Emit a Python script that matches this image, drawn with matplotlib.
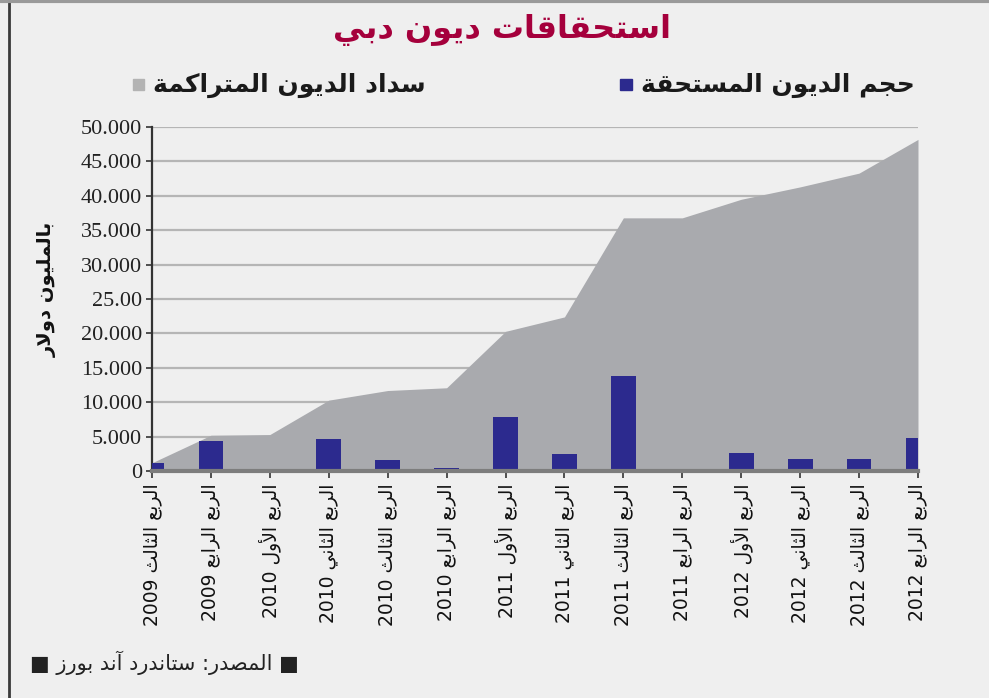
import re
import matplotlib
matplotlib.use("Agg")
import matplotlib.pyplot as plt
from matplotlib.lines import Line2D
from matplotlib.patches import Rectangle

# ---- data (millions of dollars) ----
quarters = [
    "الربع الثالث 2009", "الربع الرابع 2009",
    "الربع الأول 2010", "الربع الثاني 2010", "الربع الثالث 2010", "الربع الرابع 2010",
    "الربع الأول 2011", "الربع الثاني 2011", "الربع الثالث 2011", "الربع الرابع 2011",
    "الربع الأول 2012", "الربع الثاني 2012", "الربع الثالث 2012", "الربع الرابع 2012",
]
debt_due = [1100, 4400, 0, 4600, 1600, 400, 7800, 2400, 13800, 0, 2600, 1800, 1800, 4800]
repaid_cum = [1200, 5200, 5300, 10300, 11700, 12100, 20300, 22400, 36800, 36800,
              39500, 41300, 43300, 48200]
yticks = [0, 5000, 10000, 15000, 20000, 25000, 30000, 35000, 40000, 45000, 50000]
ytick_labels = ["0", "5.000", "10.000", "15.000", "20.000", "25.00", "30.000",
                "35.000", "40.000", "45.000", "50.000"]

title = "استحقاقات ديون دبي"
legend_due = "حجم الديون المستحقة"
legend_cum = "سداد الديون المتراكمة"
ylabel = "بالمليون دولار"
source = "المصدر: ستاندرد آند بورز"

# ---- minimal arabic shaping (matplotlib has no bidi / joining) ----
# letter -> (first presentation form, 4 = joins both sides / 2 = right only)
AR_FORMS = {
    "ا": (0xFE8D, 2), "آ": (0xFE81, 2), "أ": (0xFE83, 2),
    "ب": (0xFE8F, 4), "ة": (0xFE93, 2), "ت": (0xFE95, 4), "ث": (0xFE99, 4),
    "ج": (0xFE9D, 4), "ح": (0xFEA1, 4), "د": (0xFEA9, 2), "ر": (0xFEAD, 2),
    "ز": (0xFEAF, 2), "س": (0xFEB1, 4), "ص": (0xFEB9, 4), "ع": (0xFEC9, 4),
    "ق": (0xFED5, 4), "ك": (0xFED9, 4), "ل": (0xFEDD, 4), "م": (0xFEE1, 4),
    "ن": (0xFEE5, 4), "ه": (0xFEE9, 4), "و": (0xFEED, 2), "ي": (0xFEF1, 4),
}
LAM_ALEF = {"ا": 0xFEFB, "أ": 0xFEF7, "آ": 0xFEF5}


def ar(text):
    out = []
    i = 0
    while i < len(text):
        c = text[i]
        if c not in AR_FORMS:
            out.append(c)
            i += 1
            continue
        prev = text[i - 1] if i > 0 else ""
        nxt = text[i + 1] if i + 1 < len(text) else ""
        joins_prev = prev in AR_FORMS and AR_FORMS[prev][1] == 4
        if c == "ل" and nxt in LAM_ALEF:
            out.append(chr(LAM_ALEF[nxt] + int(joins_prev)))
            i += 2
            continue
        base, n = AR_FORMS[c]
        joins_next = n == 4 and nxt in AR_FORMS
        if joins_prev and joins_next:
            form = base + 3
        elif joins_next:
            form = base + 2
        elif joins_prev:
            form = base + 1
        else:
            form = base
        out.append(chr(form))
        i += 1
    vis = "".join(out)[::-1]
    # numbers keep left-to-right order
    return re.sub(r"[0-9.]+", lambda m: m.group(0)[::-1], vis)


plt.rcParams["font.family"] = ["DejaVu Sans"]
BG = "#efefef"
NAVY = "#2c2a8e"
GREY = "#a9aaae"

fig = plt.figure(figsize=(9.89, 6.98), dpi=100, facecolor=BG)
ax = fig.add_axes([0.1537, 0.3252, 0.7745, 0.4928])
ax.set_facecolor(BG)

x = list(range(len(quarters)))
ax.fill_between(x, repaid_cum, 0, color=GREY, lw=0, zorder=2)
ax.bar(x, debt_due, width=0.42, color=NAVY, zorder=3)

ax.set_xlim(0, len(quarters) - 1)
ax.set_ylim(0, 50000)
ax.set_yticks(yticks)
ax.set_yticklabels(ytick_labels, family="Liberation Serif", fontsize=16, color="#222222")
ax.set_xticks(x)
ax.set_xticklabels([ar(q) for q in quarters], rotation=90, fontsize=13.5, color="#111111")
ax.yaxis.grid(True, color="#b5b5b5", lw=1.6, zorder=1)
ax.set_axisbelow(True)

for s in ["top", "right"]:
    ax.spines[s].set_visible(False)
ax.spines["left"].set_color("#333333")
ax.spines["left"].set_linewidth(1.6)
ax.spines["bottom"].set_color("#7d7d7d")
ax.spines["bottom"].set_linewidth(3)
ax.spines["bottom"].set_zorder(4)
ax.tick_params(axis="y", length=4, width=1.2, color="#333333", pad=3)
ax.tick_params(axis="x", length=5, width=1.2, color="#333333", pad=4)

fig.text(0.048, 0.585, ar(ylabel), rotation=90, ha="center", va="center",
         fontsize=14, fontweight="bold", color="#111111")

# title and legend
fig.text(0.508, 0.957, ar(title), ha="center", va="center", fontsize=23,
         fontweight="bold", color="#a5003c")
fig.text(0.925, 0.878, ar(legend_due), ha="right", va="center", fontsize=18,
         fontweight="bold", color="#1a1a1a")
fig.add_artist(Rectangle((0.627, 0.871), 0.012, 0.016, transform=fig.transFigure,
                         color=NAVY))
fig.text(0.43, 0.878, ar(legend_cum), ha="right", va="center", fontsize=18,
         fontweight="bold", color="#1a1a1a")
fig.add_artist(Rectangle((0.134, 0.871), 0.012, 0.016, transform=fig.transFigure,
                         color="#b3b3b3"))

fig.text(0.03, 0.05, "■ " + ar(source) + " ■", ha="left", va="center",
         fontsize=15, color="#222222")

# frame lines
fig.add_artist(Line2D([0.009, 0.009], [0, 1], transform=fig.transFigure,
                      color="#3a3a3a", lw=2))
fig.add_artist(Line2D([0, 1], [0.998, 0.998], transform=fig.transFigure,
                      color="#9a9a9a", lw=3))

fig.savefig("out.png", dpi=100, facecolor=BG)
